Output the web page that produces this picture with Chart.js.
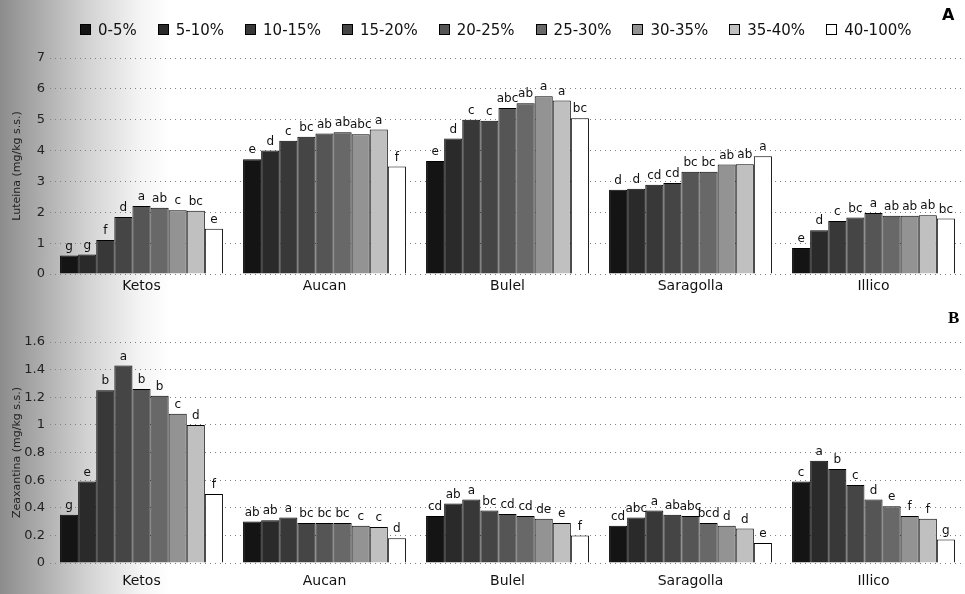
<!DOCTYPE html>
<html>
<head>
<meta charset="utf-8">
<script src="https://cdn.jsdelivr.net/npm/chart.js"></script>
<style>
  body {
    margin: 0;
    width: 965px;
    height: 594px;
    overflow: hidden;
    background: linear-gradient(to right, #8c8c8c 0px, #a8a8a8 35px, #d4d4d4 90px, #f4f4f4 140px, #ffffff 170px);
    font-family: "DejaVu Sans", Verdana, sans-serif;
  }
  .panel { position: absolute; left: 0; width: 965px; }
  #legend {
    position: absolute; left: 80px; top: 21px;
    font-size: 15px; color: #111; white-space: nowrap;
  }
  #legend span.item { display: inline-block; margin-right: 21px; }
  #legend span.sw {
    display: inline-block; width: 9px; height: 9px;
    border: 1px solid #000; margin-right: 7px; vertical-align: 0px;
  }
  .tag { position: absolute; font-weight: bold; color: #000; }
</style>
</head>
<body>

<div class="panel" style="top:0;height:300px"><canvas id="chartA" width="965" height="300"></canvas></div>
<div class="panel" style="top:300px;height:294px"><canvas id="chartB" width="965" height="294"></canvas></div>
<div id="legend"></div>
<div class="tag" style="left:942px;top:5px;font-size:16px;font-family:'DejaVu Sans'">A</div>
<div class="tag" style="left:948px;top:308px;font-size:17px;font-family:'Liberation Serif'">B</div>

<script>
/* categorie e classi */

const cultivars = ["Ketos", "Aucan", "Bulel", "Saragolla", "Illico"];
const classes = ["0-5%", "5-10%", "10-15%", "15-20%", "20-25%",
                 "25-30%", "30-35%", "35-40%", "40-100%"];
const grays = ["#141414", "#2a2a2a", "#383838", "#454545", "#555555",
               "#686868", "#939393", "#c0c0c0", "#ffffff"];

/* Luteina (mg/kg s.s.) - una riga per cultivar, una colonna per classe */

const ketosA     = [0.60, 0.63, 1.10, 1.85, 2.20, 2.15, 2.07, 2.05, 1.47];
const aucanA     = [3.72, 4.00, 4.32, 4.45, 4.55, 4.59, 4.53, 4.68, 3.48];
const bulelA     = [3.66, 4.39, 5.00, 4.97, 5.38, 5.53, 5.76, 5.62, 5.05];
const saragollaA = [2.73, 2.76, 2.89, 2.95, 3.31, 3.31, 3.55, 3.56, 3.82];
const illicoA    = [0.84, 1.42, 1.72, 1.83, 1.98, 1.89, 1.89, 1.90, 1.80];

const ketosLetA     = ["g","g","f","d","a","ab","c","bc","e"];
const aucanLetA     = ["e","d","c","bc","ab","ab","abc","a","f"];
const bulelLetA     = ["e","d","c","c","abc","ab","a","a","bc"];
const saragollaLetA = ["d","d","cd","cd","bc","bc","ab","ab","a"];
const illicoLetA    = ["e","d","c","bc","a","ab","ab","ab","bc"];

/* Zeaxantina (mg/kg s.s.) */

const ketosB     = [0.35, 0.59, 1.25, 1.43, 1.26, 1.21, 1.08, 1.00, 0.50];
const aucanB     = [0.30, 0.31, 0.33, 0.29, 0.29, 0.29, 0.27, 0.26, 0.18];
const bulelB     = [0.34, 0.43, 0.46, 0.38, 0.355, 0.34, 0.32, 0.29, 0.20];
const saragollaB = [0.27, 0.33, 0.38, 0.35, 0.34, 0.29, 0.27, 0.25, 0.145];
const illicoB    = [0.59, 0.74, 0.68, 0.565, 0.46, 0.41, 0.34, 0.32, 0.17];

const ketosLetB     = ["g","e","b","a","b","b","c","d","f"];
const aucanLetB     = ["ab","ab","a","bc","bc","bc","c","c","d"];
const bulelLetB     = ["cd","ab","a","bc","cd","cd","de","e","f"];
const saragollaLetB = ["cd","abc","a","ab","abc","bcd","d","d","e"];
const illicoLetB    = ["c","a","b","c","d","e","f","f","g"];

const ticksA = [0, 1, 2, 3, 4, 5, 6, 7];
const ticksB = [0, 0.2, 0.4, 0.6, 0.8, 1, 1.2, 1.4, 1.6];


/* legenda */

let legend = document.getElementById("legend");
classes.forEach((c, i) => {
    let item = document.createElement("span");
    item.className = "item";
    let sw = document.createElement("span");
    sw.className = "sw";
    sw.style.background = grays[i];
    item.appendChild(sw);
    item.appendChild(document.createTextNode(c));
    legend.appendChild(item);
});


/* lettere sopra le barre */

const letterPlugin = {
    id: "letters",
    afterDatasetsDraw(chart) {
        const ctx = chart.ctx;
        const letters = chart.options.plugins.letters.values;
        ctx.save();
        ctx.font = "12px 'DejaVu Sans'";
        ctx.fillStyle = "#111";
        ctx.textAlign = "center";
        ctx.textBaseline = "bottom";
        chart.data.datasets.forEach((ds, i) => {
            chart.getDatasetMeta(i).data.forEach((bar, j) => {
                ctx.fillText(letters[j][i], bar.x, bar.y - 3);
            });
        });
        ctx.restore();
    }
};


function buildDatasets(rows)
{
    return classes.map((c, i) => ({
        label: c,
        data: rows.map(r => r[i]),
        backgroundColor: grays[i],
        borderColor: "#000",
        borderWidth: 1,
        categoryPercentage: 0.89,
        barPercentage: 1
    }));
}

function makeChart(id, rows, letters, ticks, title, cfg)
{
    return new Chart(document.getElementById(id), {
        type: "bar",
        data: {
            labels: cultivars,
            datasets: buildDatasets(rows)
        },
        options: {
            responsive: false,
            animation: false,
            layout: { padding: { top: cfg.top, right: 0, left: 0, bottom: 0 } },
            plugins: {
                legend: { display: false },
                tooltip: { enabled: false },
                letters: { values: letters }
            },
            scales: {
                x: {
                    grid: { display: false, drawTicks: false },
                    border: { display: false },
                    ticks: {
                        color: "#111",
                        padding: cfg.xPad,
                        font: { family: "DejaVu Sans", size: 14 }
                    },
                    afterFit: s => { s.height = cfg.xHeight; }
                },
                y: {
                    min: 0,
                    max: ticks[ticks.length - 1],
                    afterBuildTicks: s => { s.ticks = ticks.map(v => ({ value: v })); },
                    border: { display: false, dash: [1, 4] },
                    grid: {
                        color: "#808080",
                        lineWidth: 1,
                        drawTicks: false
                    },
                    ticks: {
                        color: "#222",
                        padding: 5,
                        font: { family: "DejaVu Sans", size: 13 },
                        callback: v => String(Math.round(v * 10) / 10)
                    },
                    title: {
                        display: true,
                        text: title,
                        color: "#222",
                        padding: { top: 11, bottom: 0 },
                        font: { family: "DejaVu Sans", size: 11 }
                    },
                    afterFit: s => { s.width = 50; }
                }
            }
        },
        plugins: [letterPlugin]
    });
}

const chartA = makeChart("chartA",
    [ketosA, aucanA, bulelA, saragollaA, illicoA],
    [ketosLetA, aucanLetA, bulelLetA, saragollaLetA, illicoLetA],
    ticksA, "Luteina (mg/kg s.s.)",
    { top: 58, xHeight: 26, xPad: 4 });

const chartB = makeChart("chartB",
    [ketosB, aucanB, bulelB, saragollaB, illicoB],
    [ketosLetB, aucanLetB, bulelLetB, saragollaLetB, illicoLetB],
    ticksB, "Zeaxantina (mg/kg s.s.)",
    { top: 42, xHeight: 31, xPad: 10 });
</script>
</body>
</html>
